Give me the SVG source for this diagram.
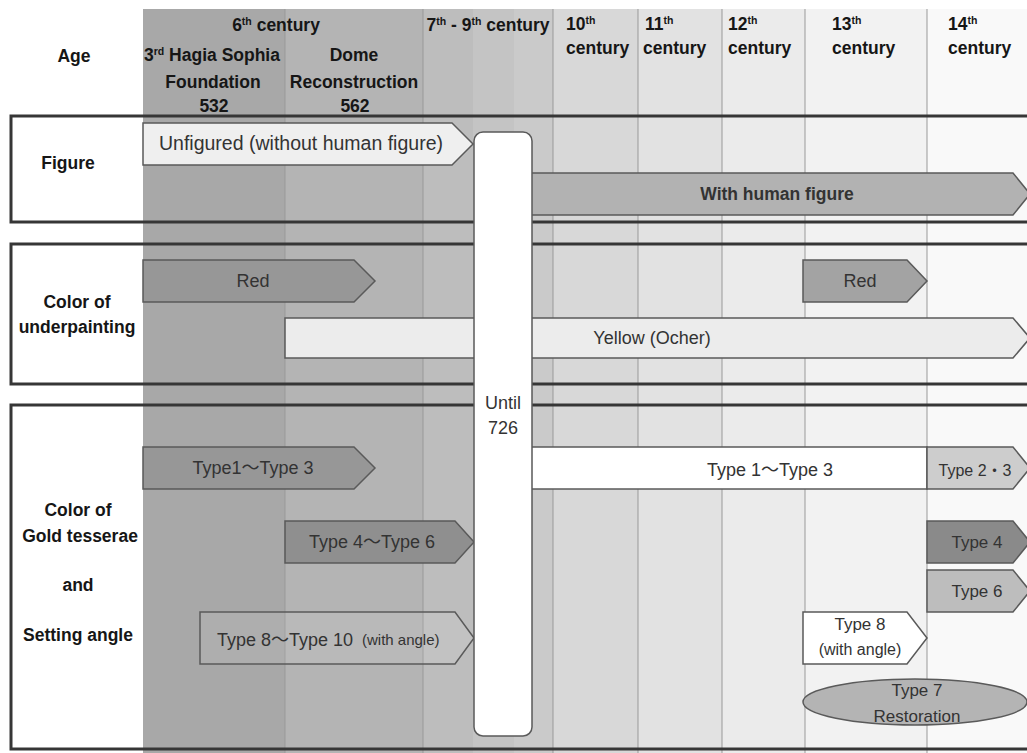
<svg xmlns="http://www.w3.org/2000/svg" width="1027" height="753" viewBox="0 0 1027 753">
<style>
  text { font-family: "Liberation Sans", Arial, "Noto Sans CJK JP", sans-serif; }
  .hd { font-size: 17.5px; font-weight: bold; fill: #161616; }
  .mid { text-anchor: middle; }
  .lbl { font-size: 17.5px; font-weight: bold; fill: #161616; text-anchor: middle; }
  .t { font-size: 18px; fill: #333333; text-anchor: middle; }
  .box { fill: none; stroke: #363636; stroke-width: 3; }
  .div { stroke: #999999; stroke-width: 1; }
  .bar { stroke: #5a5a5a; stroke-width: 1.5; stroke-linejoin: miter; }
</style>

<!-- period columns -->
<g id="columns">
  <rect x="0" y="0" width="1027" height="753" fill="#ffffff"/>
  <rect x="143" y="9" width="142" height="744" fill="#a8a8a8"/>
  <rect x="285" y="9" width="138" height="744" fill="#b4b4b4"/>
  <rect x="423" y="9" width="50" height="744" fill="#bdbdbd"/>
  <rect x="473" y="9" width="41" height="744" fill="#c4c4c4"/>
  <rect x="514" y="9" width="39" height="744" fill="#cacaca"/>
  <rect x="553" y="9" width="85" height="744" fill="#d8d8d8"/>
  <rect x="638" y="9" width="84" height="744" fill="#e2e2e2"/>
  <rect x="722" y="9" width="83" height="744" fill="#ebebeb"/>
  <rect x="805" y="9" width="122" height="744" fill="#f2f2f2"/>
  <rect x="927" y="9" width="100" height="744" fill="#f9f9f9"/>
  <line class="div" x1="285" y1="9" x2="285" y2="753"/>
  <line class="div" x1="423" y1="9" x2="423" y2="753"/>
  <line class="div" x1="553" y1="9" x2="553" y2="753"/>
  <line class="div" x1="638" y1="9" x2="638" y2="753"/>
  <line class="div" x1="722" y1="9" x2="722" y2="753"/>
  <line class="div" x1="805" y1="9" x2="805" y2="753"/>
  <line class="div" x1="927" y1="9" x2="927" y2="753"/>
</g>

<!-- header: ages -->
<g id="header">
  <text class="hd mid" x="74" y="62">Age</text>
  <text class="hd mid" x="276" y="31">6<tspan font-size="10.5" dy="-6">th</tspan><tspan dy="6"> century</tspan></text>
  <text class="hd mid" x="212" y="61">3<tspan font-size="10.5" dy="-6">rd</tspan><tspan dy="6"> Hagia Sophia</tspan></text>
  <text class="hd mid" x="213" y="88">Foundation</text>
  <text class="hd mid" x="214" y="112">532</text>
  <text class="hd mid" x="354" y="61">Dome</text>
  <text class="hd mid" x="354" y="88">Reconstruction</text>
  <text class="hd mid" x="355" y="112">562</text>
  <text class="hd mid" x="488" y="31">7<tspan font-size="10.5" dy="-6">th</tspan><tspan dy="6"> - 9</tspan><tspan font-size="10.5" dy="-6">th</tspan><tspan dy="6"> century</tspan></text>
  <text class="hd" x="566" y="30">10<tspan font-size="10.5" dy="-6">th</tspan></text>
  <text class="hd" x="566" y="54">century</text>
  <text class="hd" x="645" y="30">11<tspan font-size="10.5" dy="-6">th</tspan></text>
  <text class="hd" x="643" y="54">century</text>
  <text class="hd" x="728" y="30">12<tspan font-size="10.5" dy="-6">th</tspan></text>
  <text class="hd" x="728" y="54">century</text>
  <text class="hd" x="832" y="30">13<tspan font-size="10.5" dy="-6">th</tspan></text>
  <text class="hd" x="832" y="54">century</text>
  <text class="hd" x="948" y="30">14<tspan font-size="10.5" dy="-6">th</tspan></text>
  <text class="hd" x="948" y="54">century</text>
</g>

<!-- row frames -->
<g id="row-figure">
  <rect class="box" x="11" y="116" width="1030" height="106"/>
  <text class="lbl" x="68" y="169">Figure</text>
</g>
<g id="row-underpainting">
  <rect class="box" x="11" y="244" width="1030" height="140"/>
  <text class="lbl" x="77" y="308">Color of</text>
  <text class="lbl" x="77" y="333">underpainting</text>
</g>
<g id="row-gold">
  <rect class="box" x="11" y="405" width="1030" height="344"/>
  <text class="lbl" x="78" y="516">Color of</text>
  <text class="lbl" x="80" y="542">Gold tesserae</text>
  <text class="lbl" x="78" y="591">and</text>
  <text class="lbl" x="78" y="641">Setting angle</text>
</g>

<!-- figure row bars -->
<g id="unfigured">
  <polygon class="bar" points="143,123 452,123 473,144 452,165 143,165" fill="#efefef"/>
  <text class="t" x="301" y="150" style="font-size:19.5px">Unfigured (without human figure)</text>
</g>
<g id="with-human-figure">
  <polygon class="bar" points="500,173 1013,173 1030,194 1013,215 500,215" fill="#b2b2b2"/>
  <text class="t" x="777" y="200" font-weight="bold" fill="#1e1e1e" style="font-size:17.5px">With human figure</text>
</g>

<!-- underpainting row bars -->
<g id="red-early">
  <polygon class="bar" points="143,260 354,260 375,281 354,302 143,302" fill="#979797"/>
  <text class="t" x="253" y="287">Red</text>
</g>
<g id="yellow-ocher">
  <polygon class="bar" points="285,318 1013,318 1030,338 1013,358 285,358" fill="#ececec"/>
  <text class="t" x="652" y="344">Yellow (Ocher)</text>
</g>
<g id="red-late">
  <polygon class="bar" points="803,260 907,260 927,281 907,302 803,302" fill="#a3a3a3"/>
  <text class="t" x="860" y="287">Red</text>
</g>

<!-- gold tesserae row bars -->
<g id="type1-3-early">
  <polygon class="bar" points="143,447 354,447 375,468 354,489 143,489" fill="#979797"/>
  <text class="t" x="253" y="474">Type1～Type 3</text>
</g>
<g id="type4-6-early">
  <polygon class="bar" points="285,521 455,521 474,542 455,563 285,563" fill="#8f8f8f"/>
  <text class="t" x="372" y="548">Type 4～Type 6</text>
</g>
<g id="type8-10-early">
  <polygon class="bar" points="200,612 455,612 474,638 455,664 200,664" fill="#ffffff" fill-opacity="0.08"/>
  <text class="t" x="217" y="646" style="text-anchor:start">Type 8～Type 10</text>
  <text class="t" x="362" y="645" style="text-anchor:start;font-size:15px">(with angle)</text>
</g>
<g id="type1-3-late">
  <rect class="bar" x="500" y="447" width="427" height="42" fill="#ffffff"/>
  <text class="t" x="770" y="476">Type 1～Type 3</text>
</g>
<g id="type2-3">
  <polygon class="bar" points="927,447 1013,447 1030,468 1013,489 927,489" fill="#cdcdcd"/>
  <text class="t" x="975" y="476" style="font-size:16px">Type 2・3</text>
</g>
<g id="type4">
  <polygon class="bar" points="927,521 1013,521 1030,542 1013,563 927,563" fill="#8a8a8a"/>
  <text class="t" x="977" y="548" style="font-size:17px">Type 4</text>
</g>
<g id="type6">
  <polygon class="bar" points="927,570 1013,570 1030,591 1013,612 927,612" fill="#bdbdbd"/>
  <text class="t" x="977" y="597" style="font-size:17px">Type 6</text>
</g>
<g id="type8-late">
  <polygon class="bar" points="803,612 907,612 927,638 907,664 803,664" fill="#ffffff"/>
  <text class="t" x="860" y="630" style="font-size:17px">Type 8</text>
  <text class="t" x="860" y="655" style="font-size:16px">(with angle)</text>
</g>
<g id="type7-restoration">
  <ellipse class="bar" cx="915" cy="702" rx="112" ry="23" fill="#b4b4b4"/>
  <text class="t" x="917" y="696" style="font-size:17px">Type 7</text>
  <text class="t" x="917" y="722" style="font-size:17px">Restoration</text>
</g>

<!-- iconoclasm marker -->
<g id="until-726">
  <rect x="474" y="132" width="58" height="604" rx="9" ry="9" fill="#ffffff" stroke="#5a5a5a" stroke-width="1.5"/>
  <text class="t" x="503" y="409" fill="#222">Until</text>
  <text class="t" x="503" y="434" fill="#222">726</text>
</g>
</svg>
